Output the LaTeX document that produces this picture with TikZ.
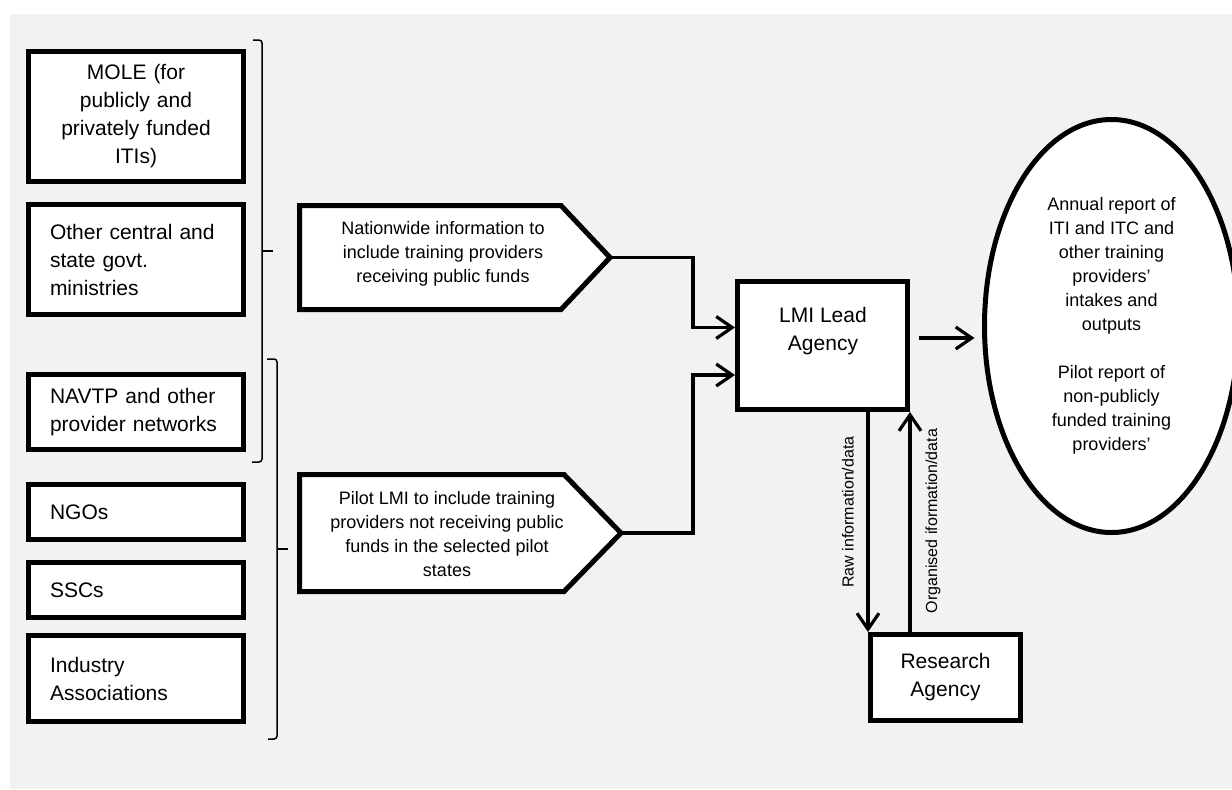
\documentclass[tikz,border=0pt]{standalone}
\usepackage{fontspec}
\setmainfont{Liberation Sans}
\usetikzlibrary{arrows.meta,shapes.geometric,calc}
\definecolor{bggray}{RGB}{242,242,242}
\tikzset{
  orgbox/.style={draw, line width=2.5pt, fill=white, minimum width=107.5pt, text width=86pt,
    inner xsep=10.75pt, inner ysep=0pt, align=left, font=\fontsize{10.5pt}{14pt}\selectfont},
  plainbox/.style={draw, line width=2.5pt, fill=white, inner sep=0pt, align=center,
    font=\fontsize{10.5pt}{14pt}\selectfont},
  pentbox/.style={draw, line width=2.5pt, fill=white, line join=miter},
  penttext/.style={align=center, font=\fontsize{9pt}{12pt}\selectfont},
  brace/.style={line width=0.75pt, rounded corners=1.5pt},
  conn/.style={line width=1.6pt, -{Straight Barb[length=8pt,width=11pt]}},
  vlabel/.style={rotate=90, inner sep=0pt, font=\fontsize{8pt}{10pt}\selectfont}
}
\begin{document}
\begin{tikzpicture}[x=0.5pt,y=-0.5pt]
		\useasboundingbox (0,0) rectangle (1232,789);
		\clip (0,0) rectangle (1232,789);
		% Background
		\fill[white] (0,0) rectangle (1232,789);
		\fill[bggray] (10,14) rectangle (1232,789);
		
		% Sources
		\node[orgbox, align=center, minimum height=65pt] (mole) at (136,116.5) {MOLE (for\\publicly and\\privately funded\\ITIs)};
		\node[orgbox, minimum height=55pt] (govt) at (136,259.5) {Other central and\\state govt.\\ministries};
		\node[orgbox, minimum height=37.5pt] (navtp) at (136,412) {NAVTP and other\\provider networks};
		\node[orgbox, minimum height=27.5pt] (ngo) at (136,512) {NGOs};
		\node[orgbox, minimum height=27.5pt] (ssc) at (136,590) {SSCs};
		\node[orgbox, minimum height=43pt] (ind) at (136,678.5) {Industry\\Associations};
		
		% Brackets
		\draw[brace] (253,40) -- (262,40) -- (262,462) -- (252,462);
		\draw[brace] (262,251) -- (273,251);
		\draw[brace] (267,359) -- (277,359) -- (277,739) -- (268,739);
		\draw[brace] (277,549) -- (288,549);
		
		% Information streams
		\draw[pentbox] (299.5,205.5) -- (561,205.5) -- (610,257.5) -- (561,309.5) -- (299.5,309.5) -- cycle;
		\coordinate (nattip) at (610,257.5);
		\node[penttext] (nat) at (443,254) {Nationwide information to\\include training providers\\receiving public funds};
		\draw[pentbox] (299.5,474.5) -- (564,474.5) -- (621,533) -- (564,591.5) -- (299.5,591.5) -- cycle;
		\coordinate (pilottip) at (621,533);
		\node[penttext] (pilot) at (447,534) {Pilot LMI to include training\\providers not receiving public\\funds in the selected pilot\\states};
		
		% Agencies
		\node[plainbox, minimum width=85pt, minimum height=64pt] (lmi) at (822.5,345.5) {};
		\node[align=center, font=\fontsize{10.5pt}{14pt}\selectfont] (lmitext) at (823,331) {LMI Lead\\Agency};
		\node[plainbox, minimum width=75pt, minimum height=43pt] (res) at (945.5,677.5) {Research\\Agency};
		
		% Reports
		\node[ellipse, draw, line width=2.5pt, fill=white, inner sep=0pt, minimum width=127pt, minimum height=206.5pt,
			align=center, font=\fontsize{9pt}{12pt}\selectfont] (rep) at (1111.5,326)
			{Annual report of\\ITI and ITC and\\other training\\providers’\\intakes and\\outputs\\[12pt]Pilot report of\\non-publicly\\funded training\\providers’};
		
		% Connectors
		\draw[conn] (nattip) -- ++(83,0) |- ($(lmi.west)+(0,-18)$);
		\draw[conn] (pilottip) -- ++(72,0) |- ($(lmi.west)+(0,29.5)$);
		\draw[conn] ($(lmi.east)+(8.5,-7.5)$) -- ($(rep.west)+(-7.5,12)$);
		\draw[conn] (res.north west |- lmi.south) -- (res.north west);
		\draw[conn] (res.north -| lmi.east) -- (lmi.south east);
		\node[vlabel] (rawlbl) at (848,512) {Raw information/data};
		\node[vlabel] (orglbl) at (933,521) {Organised iformation/data};
	\end{tikzpicture}
\end{document}
